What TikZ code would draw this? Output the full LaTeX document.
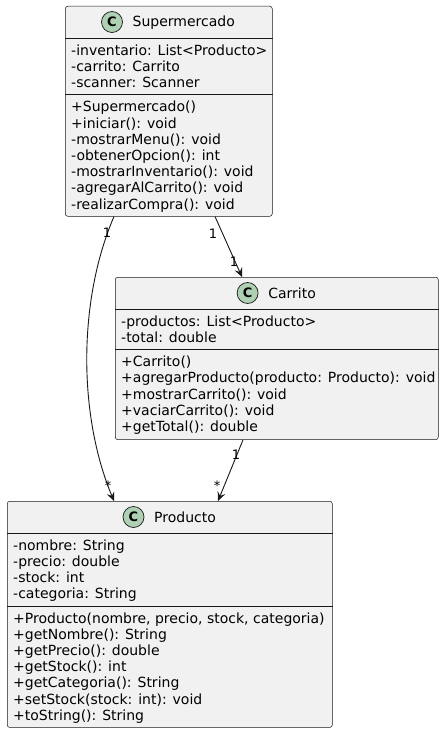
\documentclass[tikz,border=0pt]{standalone}
\usepackage{fontspec}
\setmainfont{DejaVu Sans}
\usetikzlibrary{arrows.meta,calc}
\definecolor{boxfill}{HTML}{F1F1F1}
\definecolor{boxline}{HTML}{181818}
\definecolor{spotfill}{HTML}{ADD1B2}
\newcommand{\lnst}{\rule[-3.1bp]{0pt}{16.2bp}}
\tikzset{
 classbox/.style={draw=boxline, fill=boxfill, rounded corners=2.5bp, line width=0.5bp, inner sep=0, anchor=north west},
 sepline/.style={draw=boxline, line width=0.5bp},
 spot/.style={circle, draw=boxline, fill=spotfill, line width=0.7bp, minimum size=21bp, inner sep=0, font=\fontsize{13bp}{13bp}\selectfont\bfseries},
 ctitle/.style={anchor=base west, inner sep=0, font=\fontsize{14bp}{16.2bp}\selectfont},
 members/.style={anchor=north west, inner sep=0, align=left, font=\fontsize{14bp}{16.2bp}\selectfont},
 assoc/.style={draw=boxline, line width=0.9bp, -{Stealth[length=9bp,width=8bp,inset=3.5bp]}},
 mult/.style={inner sep=0, font=\fontsize{13bp}{13bp}\selectfont},
}
\begin{document}
\begin{tikzpicture}[x=1bp,y=-1bp]
\useasboundingbox (0,0) rectangle (445,733);
% Supermercado
\node[classbox, minimum width=207bp, minimum height=210bp] (super) at (65,6) {};
\draw[sepline] ($(super.north west)+(0,32)$) -- ($(super.north east)+(0,32)$);
\draw[sepline] ($(super.north west)+(0,88.6)$) -- ($(super.north east)+(0,88.6)$);
\node[spot] (superspot) at (112,22) {C};
\node[ctitle] (supertitle) at (132.5,27) {Supermercado};
\node[members] (superattr) at (71,42) {\lnst-inventario: List<Producto>\\\lnst-carrito: Carrito\\\lnst-scanner: Scanner};
\node[members] (supermeth) at (71,98.6) {\lnst+Supermercado()\\\lnst+iniciar(): void\\\lnst-mostrarMenu(): void\\\lnst-obtenerOpcion(): int\\\lnst-mostrarInventario(): void\\\lnst-agregarAlCarrito(): void\\\lnst-realizarCompra(): void};
% Carrito
\node[classbox, minimum width=323bp, minimum height=162.4bp] (carrito) at (115,277) {};
\draw[sepline] ($(carrito.north west)+(0,32)$) -- ($(carrito.north east)+(0,32)$);
\draw[sepline] ($(carrito.north west)+(0,72.4)$) -- ($(carrito.north east)+(0,72.4)$);
\node[spot] (carritospot) at (247.6,293) {C};
\node[ctitle] (carritotitle) at (268.1,298) {Carrito};
\node[members] (carritoattr) at (121,313) {\lnst-productos: List<Producto>\\\lnst-total: double};
\node[members] (carritometh) at (121,353.4) {\lnst+Carrito()\\\lnst+agregarProducto(producto: Producto): void\\\lnst+mostrarCarrito(): void\\\lnst+vaciarCarrito(): void\\\lnst+getTotal(): double};
% Producto
\node[classbox, minimum width=325bp, minimum height=226.2bp] (producto) at (7,501) {};
\draw[sepline] ($(producto.north west)+(0,32)$) -- ($(producto.north east)+(0,32)$);
\draw[sepline] ($(producto.north west)+(0,104.8)$) -- ($(producto.north east)+(0,104.8)$);
\node[spot] (productospot) at (133.5,517) {C};
\node[ctitle] (productotitle) at (154,522) {Producto};
\node[members] (productoattr) at (13,537) {\lnst-nombre: String\\\lnst-precio: double\\\lnst-stock: int\\\lnst-categoria: String};
\node[members] (productometh) at (13,609.8) {\lnst+Producto(nombre, precio, stock, categoria)\\\lnst+getNombre(): String\\\lnst+getPrecio(): double\\\lnst+getStock(): int\\\lnst+getCategoria(): String\\\lnst+setStock(stock: int): void\\\lnst+toString(): String};
% connectors
\coordinate (a1) at ($(super.south west)+(49,0)$);
\coordinate (a2) at ($(producto.north west)+(107,0)$);
\draw[assoc] (a1) .. controls (78,300) and (78,415) .. (a2);
\coordinate (b1) at ($(super.south west)+(150,0)$);
\coordinate (b2) at ($(carrito.north west)+(127,0)$);
\draw[assoc] (b1) -- (b2);
\coordinate (c1) at ($(carrito.south west)+(128,0)$);
\coordinate (c2) at ($(producto.north west)+(211,0)$);
\draw[assoc] (c1) -- (c2);
% multiplicities
\node[mult] (m1) at (107,233) {1};
\node[mult] (m2) at (108,486) {*};
\node[mult] (m3) at (213,234) {1};
\node[mult] (m4) at (234,262) {1};
\node[mult] (m5) at (236,455) {1};
\node[mult] (m6) at (217,486) {*};
\end{tikzpicture}
\end{document}
